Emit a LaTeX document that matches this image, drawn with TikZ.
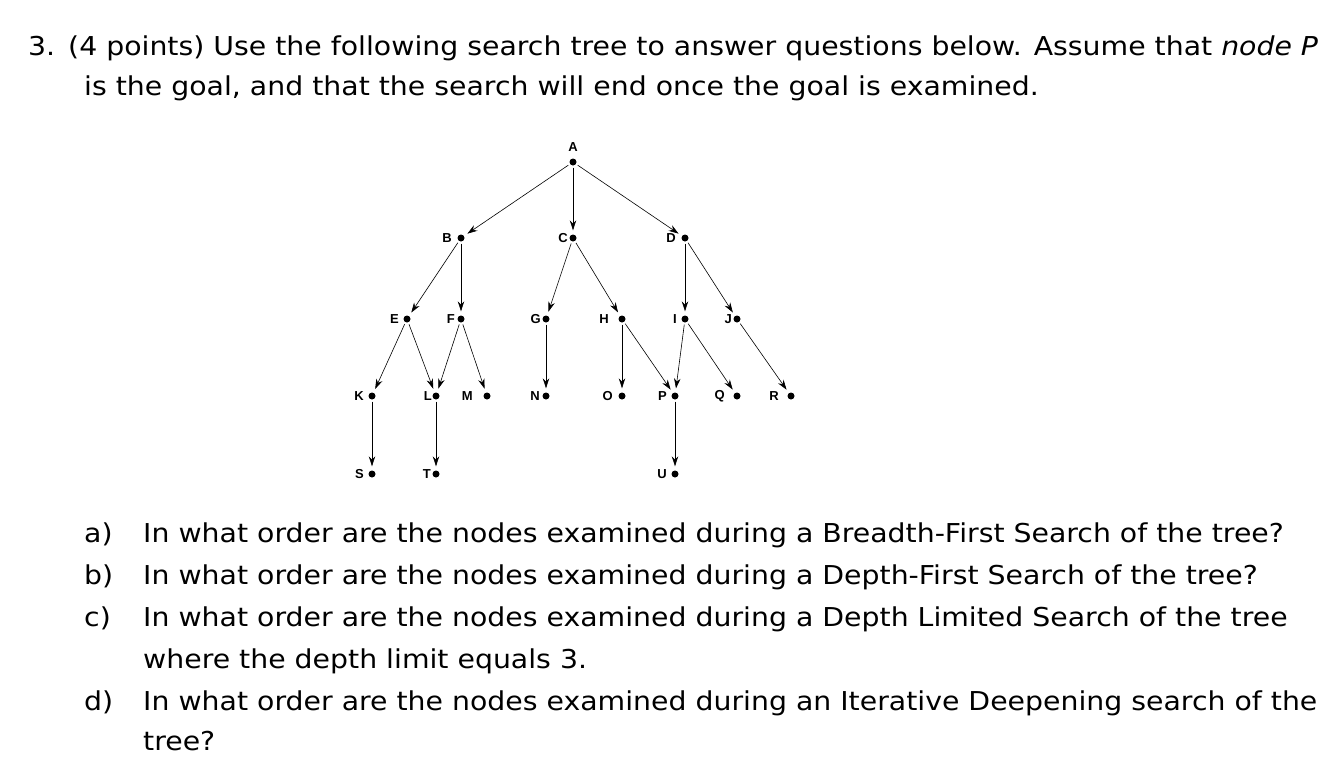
\documentclass[tikz,border=0pt]{standalone}
\usepackage{fontspec}
\setmainfont[FakeStretch=1.09]{DejaVu Sans}
\newfontfamily\lblfont{Liberation Sans}
\usetikzlibrary{arrows.meta}
\begin{document}
\begin{tikzpicture}[x=1pt,y=-1pt,
  dotnode/.style={circle,fill=black,inner sep=0pt,minimum size=7pt},
  lbl/.style={font=\lblfont\bfseries\fontsize{13}{13}\selectfont,anchor=east,inner sep=0pt},
  edge/.style={-{Stealth[length=10pt,width=6.5pt]},semithick,shorten >=4pt,shorten <=2pt},
  txt/.style={anchor=base west,inner sep=0pt,font=\fontsize{26}{30}\selectfont}]
\useasboundingbox (0,0) rectangle (1342,782);
\node[txt] (l1) at (28,55) {3.\enspace(4 points) Use the following search tree to answer questions below. Assume that \textit{node P}};
\node[txt] (l2) at (84,95) {is the goal, and that the search will end once the goal is examined.};
\foreach \n/\x/\y in {A/573/162,B/461/238,C/573/238,D/685/238,E/407/319,F/461/319,G/546/319,H/622/319,I/685/319,J/737/319,K/372/396,L/436/396,M/487/396,N/546/396,O/622/396,P/675/396,Q/737/396,R/791/396,S/372/474,T/436/474,U/675/474}{
  \node[dotnode] (\n) at (\x,\y) {};
}
\node[lbl,anchor=south] (lA) at (573,152) {A};
\foreach \n/\d in {B/9,C/5,D/9,E/8,F/6,G/5,H/13,I/8,J/5,K/8,L/4,M/14,N/6,O/9,P/8,Q/12,R/12,S/8,T/5,U/8}{
  \node[lbl] (l\n) at ([xshift=-\d pt]\n.center) {\n};
}
\foreach \a/\b in {A/B,A/C,A/D,B/E,B/F,C/G,C/H,D/I,D/J,E/K,E/L,F/L,F/M,G/N,H/O,H/P,I/P,I/Q,J/R,K/S,L/T,P/U}{
  \draw[edge] (\a) -- (\b);
}
\foreach \k/\y/\t in {a/542/In what order are the nodes examined during a Breadth-First Search of the tree?,b/584/In what order are the nodes examined during a Depth-First Search of the tree?,c/626/In what order are the nodes examined during a Depth Limited Search of the tree,d/710/In what order are the nodes examined during an Iterative Deepening search of the}{
  \node[txt] (q\k) at (84,\y) {\k)};
  \node[txt] (t\k) at (143,\y) {\t};
}
\node[txt] (c2) at (143,668) {where the depth limit equals 3.};
\node[txt] (d2) at (143,750) {tree?};
\end{tikzpicture}
\end{document}
